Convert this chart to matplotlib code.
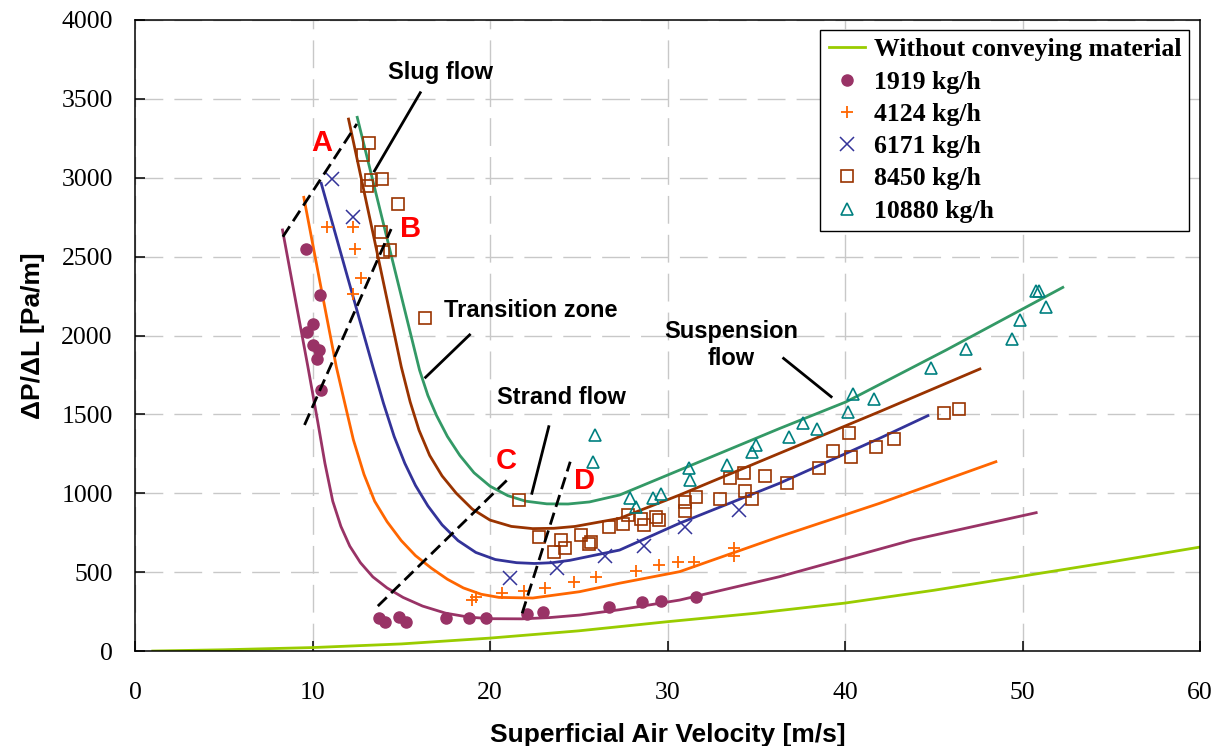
import matplotlib
matplotlib.use('Agg')
import matplotlib.pyplot as plt

# fitted curves (velocity m/s, dP/dL Pa/m)
empty_x = [1.0, 5, 10, 15, 20, 25, 30, 35, 40, 45, 50, 55, 60]
empty_y = [0, 8, 22, 45, 82, 128, 186, 240, 304, 385, 475, 565, 659]

c1919_x = [8.31, 9.0, 9.74, 10.3, 10.7, 11.14, 11.6, 12.1, 12.7, 13.4, 14.2, 15.1, 16.2, 17.5, 18.8, 20.0, 21.8,
           23.35, 25.04, 27.3, 30.68, 36.3, 43.8, 50.77]
c1919_y = [2669, 2250, 1802, 1450, 1190, 950, 790, 665, 560, 470, 400, 340, 285, 240, 215, 205, 204,
           212, 228, 262, 323, 471, 704, 877]

c4124_x = [9.51, 10.4, 11.34, 11.8, 12.3, 12.9, 13.5, 14.2, 15.0, 15.8, 16.7, 17.6, 18.5, 19.5, 20.5, 22.41,
           25.04, 27.3, 30.68, 36.3, 41.94, 48.5]
c4124_y = [2876, 2350, 1802, 1580, 1340, 1120, 950, 820, 700, 605, 525, 455, 400, 360, 340, 336,
           376, 430, 503, 725, 936, 1200]

c6171_x = [10.49, 11.9, 13.4, 14.0, 14.6, 15.2, 15.8, 16.5, 17.3, 18.2, 19.2, 20.3, 21.5, 22.5, 23.5, 24.5,
           27.3, 30.68, 36.3, 41.94, 44.67]
c6171_y = [2965, 2400, 1802, 1570, 1360, 1190, 1050, 920, 800, 700, 625, 580, 560, 555, 560, 575,
           640, 810, 1063, 1348, 1492]

c8450_x = [12.03, 13.5, 15.0, 15.5, 16.0, 16.6, 17.3, 18.1, 19.0, 20.0, 21.2, 22.4, 23.6, 24.8, 27.3, 30.68,
           36.3, 41.94, 47.6]
c8450_y = [3372, 2600, 1802, 1580, 1400, 1240, 1110, 1000, 900, 830, 790, 776, 778, 790, 841, 989,
           1253, 1517, 1788]

c10880_x = [12.52, 14.3, 16.03, 16.5, 17.0, 17.6, 18.3, 19.1, 20.0, 21.0, 22.0, 23.2, 24.4, 25.6, 27.3, 30.68,
            36.3, 40.07, 45.7, 52.27]
c10880_y = [3383, 2570, 1781, 1620, 1490, 1360, 1240, 1130, 1045, 985, 950, 933, 932, 945, 989, 1147,
            1410, 1580, 1908, 2305]

# measured points
m1919_x = [9.61, 10.45, 10.02, 9.70, 10.02, 10.36, 10.25, 10.49, 13.74, 14.06, 14.86, 15.28, 17.53, 18.81, 19.75,
           22.07, 22.97, 26.73, 28.57, 29.65, 31.62]
m1919_y = [2550, 2255, 2071, 2020, 1940, 1908, 1851, 1655, 207, 184, 214, 184, 207, 207, 211,
           232, 249, 277, 313, 319, 344]

m4124_x = [10.81, 12.27, 12.42, 12.74, 12.27, 19.0, 19.2, 20.69, 21.94, 23.07, 24.76, 25.98, 28.24, 29.51, 30.60,
           31.52, 33.72, 33.72]
m4124_y = [2686, 2686, 2550, 2366, 2263, 323, 345, 370, 382, 397, 439, 471, 509, 543, 564,
           566, 651, 602]

m6171_x = [11.07, 12.27, 21.14, 23.76, 26.5, 28.65, 30.97, 34.02]
m6171_y = [2990, 2753, 461, 524, 604, 666, 788, 894]

m8450_x = [13.21, 12.87, 13.27, 13.06, 13.9, 14.79, 13.87, 13.96, 14.38, 16.31, 21.66, 22.75, 24.01, 23.58, 24.25,
           25.1, 25.57, 25.7, 26.73, 27.52, 27.76, 28.52, 28.7, 29.36, 29.51, 30.96, 30.96, 31.62, 32.93, 33.53,
           34.3, 34.38, 34.77, 35.48, 36.72, 38.52, 39.35, 40.35, 40.21, 41.72, 42.75, 45.55, 46.41]
m8450_y = [3218, 3144, 2986, 2950, 2992, 2834, 2654, 2527, 2542, 2109, 957, 725, 704, 630, 655,
           735, 678, 689, 788, 805, 862, 835, 799, 848, 830, 947, 887, 974, 963, 1099,
           1126, 1014, 962, 1111, 1063, 1158, 1268, 1228, 1380, 1295, 1342, 1511, 1532]

m10880_x = [25.89, 25.79, 27.86, 28.24, 29.21, 29.65, 31.2, 31.24, 33.34, 34.99, 34.77, 36.83, 37.62, 38.41,
            40.16, 40.44, 41.66, 44.87, 46.79, 49.4, 49.87, 50.77, 50.92, 51.34]
m10880_y = [1369, 1200, 968, 911, 968, 995, 1158, 1084, 1179, 1306, 1263, 1358, 1443, 1405,
            1517, 1629, 1595, 1796, 1917, 1978, 2098, 2284, 2284, 2179]

# regime boundaries
line_a_x = [8.33, 12.5]
line_a_y = [2626, 3341]
line_b_x = [9.55, 14.43]
line_b_y = [1433, 2675]
line_c_x = [13.68, 21.0]
line_c_y = [285, 1088]
line_d_x = [21.81, 24.52]
line_d_y = [239, 1200]

fig = plt.figure(figsize=(12.24, 7.46), dpi=100)
ax = fig.add_axes([0.1103, 0.1273, 0.8701, 0.8459])

ax.plot(empty_x, empty_y, color='#99CC00', lw=2, label='Without conveying material')

ax.plot(c1919_x, c1919_y, color='#993366', lw=2)
ax.plot(c4124_x, c4124_y, color='#FF6600', lw=2)
ax.plot(c6171_x, c6171_y, color='#333399', lw=2)
ax.plot(c8450_x, c8450_y, color='#993300', lw=2)
ax.plot(c10880_x, c10880_y, color='#339966', lw=2)

ax.plot(m1919_x, m1919_y, 'o', ms=8, color='#993366', mec='#993366', label='1919 kg/h')
ax.plot(m4124_x, m4124_y, '+', ms=9, mew=1.3, color='#FF6600', label='4124 kg/h')
ax.plot(m6171_x, m6171_y, 'x', ms=10, mew=1.1, color='#333399', label='6171 kg/h')
ax.plot(m8450_x, m8450_y, 's', ms=9, mfc='none', mec='#993300', mew=1.2, label='8450 kg/h')
ax.plot(m10880_x, m10880_y, '^', ms=9, mfc='none', mec='#008080', mew=1.2, label='10880 kg/h')

for lx, ly in [(line_a_x, line_a_y), (line_b_x, line_b_y), (line_c_x, line_c_y), (line_d_x, line_d_y)]:
    ax.plot(lx, ly, color='black', lw=2, dashes=(4.5, 2.2))

# annotation leaders
ax.plot([16.07, 13.49], [3539, 3043], color='black', lw=2)
ax.plot([18.85, 16.37], [2004, 1735], color='black', lw=2)
ax.plot([23.31, 22.36], [1422, 1000], color='black', lw=2)
ax.plot([36.54, 39.22], [1855, 1612], color='black', lw=2)

sans = ['Liberation Sans', 'DejaVu Sans']
serif = ['Liberation Serif', 'DejaVu Serif']
ax.text(17.2, 3670, 'Slug flow', fontsize=17, fontweight='bold', family=sans, ha='center', va='center')
ax.text(22.3, 2161, 'Transition zone', fontsize=17, fontweight='bold', family=sans, ha='center', va='center')
ax.text(24.0, 1604, 'Strand flow', fontsize=17, fontweight='bold', family=sans, ha='center', va='center')
ax.text(33.6, 1940, 'Suspension\nflow', fontsize=17, fontweight='bold', family=sans, ha='center', va='center',
        linespacing=1.25)

for lab, lx, ly in [('A', 10.52, 3220), ('B', 15.52, 2675), ('C', 20.93, 1204), ('D', 25.3, 1077)]:
    ax.text(lx, ly, lab, color='red', fontsize=21, fontweight='bold', family=sans, ha='center', va='center')

ax.set_xlim(0, 60)
ax.set_ylim(0, 4000)
ax.set_xticks(range(0, 61, 10))
ax.set_yticks(range(0, 4001, 500))
ax.grid(True, color='#C8C8C8', lw=1, linestyle=(0, (20, 8)))
ax.set_axisbelow(True)
ax.tick_params(direction='in', length=7, width=1.1, labelsize=18.5)
ax.tick_params(axis='x', pad=22)
ax.tick_params(axis='y', pad=16)
for t in ax.get_xticklabels() + ax.get_yticklabels():
    t.set_family(serif)
for s in ax.spines.values():
    s.set_color('black')
    s.set_linewidth(1.1)

ax.set_xlabel('Superficial Air Velocity [m/s]', fontsize=19, fontweight='bold', family=sans, labelpad=14)
ax.set_ylabel('ΔP/ΔL [Pa/m]', fontsize=19, fontweight='bold', family=sans, labelpad=12)

leg = ax.legend(loc='upper right', bbox_to_anchor=(0.990, 0.984), fancybox=False, framealpha=1,
                edgecolor='black', prop={'family': serif, 'weight': 'bold', 'size': 18.5},
                handlelength=1.4, labelspacing=0.36, borderpad=0.32, handletextpad=0.35, borderaxespad=0)
leg.get_frame().set_linewidth(1)

fig.savefig('out.png', dpi=100)
